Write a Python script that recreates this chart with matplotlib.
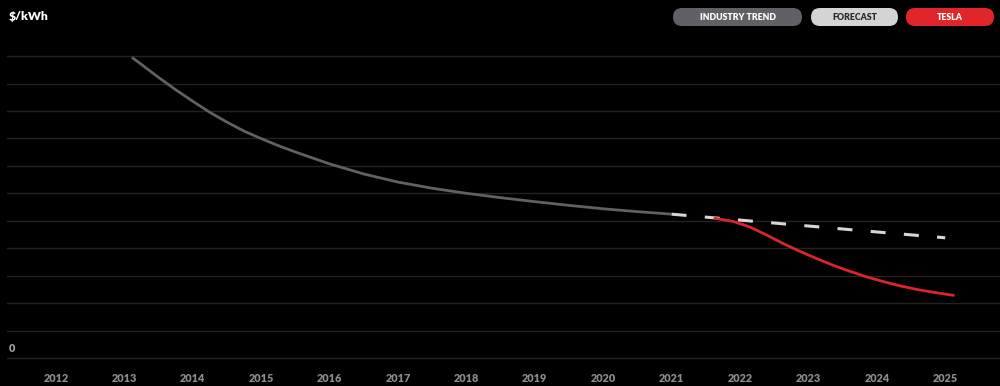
import matplotlib
matplotlib.use("Agg")
import matplotlib.pyplot as plt
from matplotlib.patches import FancyBboxPatch

# ---- data (approximate $/kWh) ----
years = [2012, 2013, 2014, 2015, 2016, 2017, 2018, 2019, 2020, 2021, 2022, 2023, 2024, 2025]
year_labels = [str(y) for y in years]

industry_x = [2013.11, 2013.25, 2013.5, 2013.75, 2014.0, 2014.25, 2014.5, 2014.75, 2015.0,
              2015.25, 2015.5, 2016.0, 2016.5, 2017.0, 2017.5, 2018.0,
              2018.5, 2019.0, 2019.5, 2020.0, 2020.5, 2021.0]
industry_y = [273.8, 267.3, 255.5, 244.3, 233.8, 223.7, 214.8, 206.6, 199.8,
              193.4, 187.6, 176.8, 167.6, 160.2, 154.6, 150.0,
              146.0, 142.4, 139.0, 135.9, 133.3, 131.0]

forecast_x = [2021.0, 2022.0, 2023.0, 2024.0, 2025.0]
forecast_y = [131, 125.6, 120.2, 114.8, 109.5]

tesla_x = [2021.63, 2021.9, 2022.15, 2022.39, 2022.63, 2022.88, 2023.12, 2023.36, 2023.61,
           2023.85, 2024.1, 2024.34, 2024.58, 2024.83, 2025.12]
tesla_y = [127.2, 124.4, 119.2, 112.0, 104.3, 97.0, 90.6, 84.5, 78.9,
           73.9, 69.5, 65.7, 62.5, 59.8, 57.1]

grid_values = [0, 25, 50, 75, 100, 125, 150, 175, 200, 225, 250, 275]

legend_labels = ["INDUSTRY TREND", "FORECAST", "TESLA"]

# ---- styling ----
BG = "#000000"
C_IND = "#606065"
C_FC = "#d6d6d6"
C_TES = "#d9262c"
FONT = ["Lato", "DejaVu Sans"]

W, H = 1000, 386
fig = plt.figure(figsize=(W / 100, H / 100), dpi=100, facecolor=BG)
ax = fig.add_axes([0, 20 / H, 1, 1 - 20 / H])
ax.set_facecolor(BG)

px_per_year = 68.4
x0 = 2012 - 56 / px_per_year
x1 = 2012 + (W - 56) / px_per_year
ax.set_xlim(x0, x1)
per_px = 25 / 27.45
ax.set_ylim(-8 * per_px, 358 * per_px)

for g in grid_values:
    ax.axhline(g, xmin=7 / W, xmax=1, color="#232323", lw=1.0, zorder=1)

ax.plot(industry_x, industry_y, color=C_IND, lw=2.0, solid_capstyle="butt",
        solid_joinstyle="round", zorder=3)
ax.plot(forecast_x, forecast_y, color=C_FC, lw=2.2, dashes=(4.9, 6.0), zorder=3)
ax.plot(tesla_x, tesla_y, color=C_TES, lw=2.0, solid_capstyle="round",
        solid_joinstyle="round", zorder=4)

for s in ax.spines.values():
    s.set_visible(False)
ax.set_yticks([])
ax.set_xticks(years)
ax.set_xticklabels(year_labels, family=FONT, fontsize=7.8, color="#8c8c8c", fontweight="heavy")
ax.tick_params(axis="x", length=0, pad=5)

ax.annotate("0", xy=(x0 + 9 / px_per_year, 0), xytext=(0, 3), textcoords="offset points",
            ha="left", va="bottom", color="#a0a0a0", fontsize=7.8, fontweight="heavy", family=FONT)

fig.text(9 / W, 1 - 17 / H, "$/kWh", color="white", fontsize=8.8, fontweight="heavy",
         family=FONT, ha="left", va="center")

# legend pills
pills = [(673, 802, C_IND, "white"), (811, 898, "#d4d4d4", "#2a2a2a"), (906, 994, "#e0262a", "white")]
for (l, r, fc, tc), lab in zip(pills, legend_labels):
    top, bot = 8, 26
    h = bot - top
    p = FancyBboxPatch((l / W, 1 - bot / H), (r - l) / W, h / H,
                       boxstyle="round,pad=0,rounding_size=0.009",
                       mutation_aspect=W / H,
                       transform=fig.transFigure, facecolor=fc, edgecolor="none")
    fig.patches.append(p)
    fig.text((l + r) / 2 / W, 1 - (top + bot) / 2 / H, lab, color=tc, fontsize=6.3,
             fontweight="heavy", family=FONT, ha="center", va="center")

fig.savefig("out.png", dpi=100, facecolor=BG)
